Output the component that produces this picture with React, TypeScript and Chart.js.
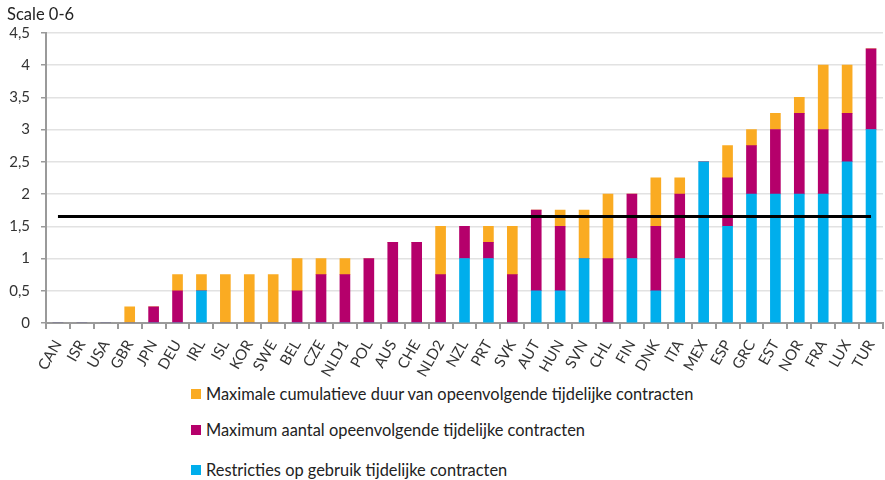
import { useEffect, useRef } from "react";
import { Chart, registerables } from "chart.js";

Chart.register(...registerables);

const categories = [
  "CAN", "ISR", "USA", "GBR", "JPN", "DEU", "IRL", "ISL", "KOR", "SWE",
  "BEL", "CZE", "NLD1", "POL", "AUS", "CHE", "NLD2", "NZL", "PRT", "SVK",
  "AUT", "HUN", "SVN", "CHL", "FIN", "DNK", "ITA", "MEX", "ESP", "GRC",
  "EST", "NOR", "FRA", "LUX", "TUR",
];

// Restricties op gebruik tijdelijke contracten
const restricties = [
  0, 0, 0, 0, 0, 0, 0.5, 0, 0, 0,
  0, 0, 0, 0, 0, 0, 0, 1, 1, 0,
  0.5, 0.5, 1, 0, 1, 0.5, 1, 2.5, 1.5, 2,
  2, 2, 2, 2.5, 3,
];

// Maximum aantal opeenvolgende tijdelijke contracten
const maxAantal = [
  0, 0, 0, 0, 0.25, 0.5, 0, 0, 0, 0,
  0.5, 0.75, 0.75, 1, 1.25, 1.25, 0.75, 0.5, 0.25, 0.75,
  1.25, 1, 0, 1, 1, 1, 1, 0, 0.75, 0.75,
  1, 1.25, 1, 0.75, 1.25,
];

// Maximale cumulatieve duur van opeenvolgende tijdelijke contracten
const maxDuur = [
  0, 0, 0, 0.25, 0, 0.25, 0.25, 0.75, 0.75, 0.75,
  0.5, 0.25, 0.25, 0, 0, 0, 0.75, 0, 0.25, 0.75,
  0, 0.25, 0.75, 1, 0, 0.75, 0.25, 0, 0.5, 0.25,
  0.25, 0.25, 1, 0.75, 0,
];

const gemiddelde = 1.65;
const yTickValues = [0, 0.5, 1, 1.5, 2, 2.5, 3, 3.5, 4, 4.5];

const labelDuur = "Maximale cumulatieve duur van opeenvolgende tijdelijke contracten";
const labelAantal = "Maximum aantal opeenvolgende tijdelijke contracten";
const labelRestricties = "Restricties op gebruik tijdelijke contracten";

const ORANGE = "#FAAB22";
const MAGENTA = "#B5006B";
const BLUE = "#00AEEC";
const FONT = "Lato, 'Open Sans', sans-serif";

export default function App() {
  const canvasRef = useRef<HTMLCanvasElement | null>(null);

  useEffect(() => {
    if (!canvasRef.current) return;
    Chart.defaults.font.family = FONT;
    const chart = new Chart(canvasRef.current, {
      type: "bar",
      data: {
        labels: categories,
        datasets: [
          {
            type: "line",
            label: "gemiddelde",
            data: categories.map(() => gemiddelde),
            borderColor: "#000",
            borderWidth: 3,
            pointRadius: 0,
            fill: false,
            stack: "avg",
            order: 0,
          } as any,
          {
            label: labelRestricties,
            data: restricties,
            backgroundColor: BLUE,
            stack: "bars",
            barThickness: 10,
            order: 1,
          },
          {
            label: labelAantal,
            data: maxAantal,
            backgroundColor: MAGENTA,
            stack: "bars",
            barThickness: 10,
            order: 1,
          },
          {
            label: labelDuur,
            data: maxDuur,
            backgroundColor: ORANGE,
            stack: "bars",
            barThickness: 10,
            order: 1,
          },
        ],
      },
      options: {
        animation: false,
        responsive: true,
        maintainAspectRatio: false,
        layout: { padding: { left: 7, right: 2, top: 0, bottom: 0 } },
        plugins: {
          legend: { display: false },
          tooltip: { enabled: false },
          title: {
            display: true,
            text: "Scale 0-6",
            align: "start",
            color: "#222",
            font: { size: 16.5, weight: "normal" },
            padding: { top: 5, bottom: 8 },
          },
        },
        scales: {
          x: {
            stacked: true,
            grid: {
              offset: true,
              drawOnChartArea: false,
              drawTicks: true,
              tickLength: 6,
              color: "#9a9a9a",
              lineWidth: 2,
            },
            border: { color: "#9a9a9a", width: 2 },
            ticks: {
              autoSkip: false,
              minRotation: 60,
              maxRotation: 60,
              color: "#333",
              font: { size: 15 },
              padding: 8,
            },
            afterFit: (s: any) => {
              s.height = 57;
              s.paddingRight = 0;
              s.paddingLeft = 0;
            },
          },
          y: {
            stacked: true,
            min: 0,
            max: 4.5,
            afterBuildTicks: (s: any) => {
              s.ticks = yTickValues.map((v) => ({ value: v }));
            },
            ticks: {
              stepSize: 0.5,
              color: "#333",
              font: { size: 15 },
              padding: 11,
              callback: (v: any) => String(v).replace(".", ","),
            },
            grid: {
              color: "#e2e2e2",
              lineWidth: 1.5,
              tickLength: 5,
              tickColor: "#9a9a9a",
            },
            border: { color: "#9a9a9a", width: 2 },
            afterFit: (s: any) => {
              s.width = 39;
            },
          },
        },
      },
    });
    return () => chart.destroy();
  }, []);

  const legendItems = [
    { color: ORANGE, text: labelDuur, top: 384 },
    { color: MAGENTA, text: labelAantal, top: 420 },
    { color: BLUE, text: labelRestricties, top: 460 },
  ];

  return (
    <div
      style={{
        position: "fixed",
        left: 0,
        top: 0,
        width: 885,
        height: 480,
        background: "#fff",
        fontFamily: FONT,
      }}
    >
      <div style={{ position: "absolute", left: 0, top: 0, width: 885, height: 380 }}>
        <canvas ref={canvasRef} />
      </div>
      {legendItems.map((it) => (
        <div
          key={it.text}
          style={{
            position: "absolute",
            left: 191,
            top: it.top,
            height: 20,
            display: "flex",
            alignItems: "center",
            whiteSpace: "nowrap",
          }}
        >
          <span style={{ display: "inline-block", width: 10, height: 10, background: it.color }} />
          <span style={{ marginLeft: 5, fontSize: 16.4, lineHeight: "20px", color: "#222" }}>{it.text}</span>
        </div>
      ))}
    </div>
  );
}
